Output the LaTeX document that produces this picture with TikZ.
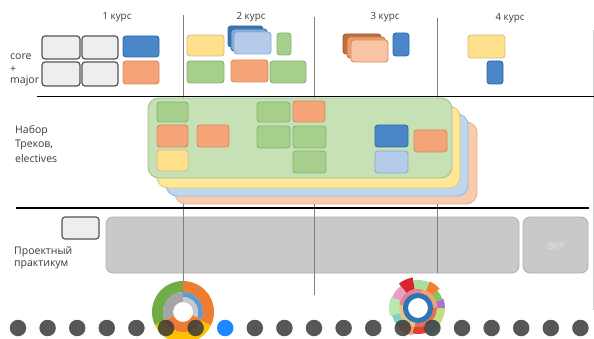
\documentclass[tikz,border=0pt]{standalone}
\usepackage{fontspec}
\setmainfont{Open Sans}
\definecolor{txt}{HTML}{3A3A3A}
\definecolor{gbox}{HTML}{EEEEEE}
\definecolor{gline}{HTML}{555555}
\definecolor{bluef}{HTML}{4A86C8}
\definecolor{bluel}{HTML}{2F6AAA}
\definecolor{oranf}{HTML}{F5A477}
\definecolor{oranl}{HTML}{D98B5F}
\definecolor{yelf}{HTML}{FFE08C}
\definecolor{yell}{HTML}{D8C080}
\definecolor{grnf}{HTML}{A6CF8C}
\definecolor{grnl}{HTML}{86B470}
\definecolor{lbluf}{HTML}{B4CBEA}
\definecolor{lblul}{HTML}{8EA9D0}
\definecolor{brownf}{HTML}{C0703A}
\definecolor{midof}{HTML}{E8A070}
\definecolor{peachf}{HTML}{F8C4A4}
\definecolor{trgreen}{HTML}{C6E1B5}
\definecolor{trgreenl}{HTML}{A0C490}
\definecolor{tryel}{HTML}{FFE699}
\definecolor{tryell}{HTML}{E3C878}
\definecolor{trblue}{HTML}{BDD7EE}
\definecolor{trbluel}{HTML}{9DB8D8}
\definecolor{trpeach}{HTML}{F8CBAD}
\definecolor{trpeachl}{HTML}{E8B090}
\definecolor{projf}{HTML}{C9C9C9}
\definecolor{projl}{HTML}{B0B0B0}
\definecolor{vline}{HTML}{808080}
\definecolor{dotc}{HTML}{3A3A3A}
\definecolor{dotblue}{HTML}{1E88FF}
\definecolor{dgreen}{HTML}{70AD47}
\definecolor{dorange}{HTML}{ED7D31}
\definecolor{dyellow}{HTML}{FFC000}
\definecolor{dgray}{HTML}{A5A5A5}
\definecolor{dblue}{HTML}{5B9BD5}
\definecolor{ringblue}{HTML}{2E75B6}
\newcommand{\ringseg}[5]{\fill[#1] (#2:#4) arc[start angle=#2,end angle=#3,radius=#4] -- (#3:#5) arc[start angle=#3,end angle=#2,radius=#5] -- cycle;}
\tikzset{
  lbl/.style={text=txt, font=\fontsize{10.5}{12}\selectfont, inner sep=0pt},
  hdr/.style={text=txt, font=\fontsize{9.8}{11}\selectfont, inner sep=0pt},
  sbox/.style={rounded corners=3pt, line width=0.9pt},
  graybox/.style={sbox, fill=gbox, draw=gline, line width=1.2pt},
  bluebox/.style={sbox, fill=bluef, draw=bluel},
  orbox/.style={sbox, fill=oranf, draw=oranl},
  yebox/.style={sbox, fill=yelf, draw=yell},
  grbox/.style={sbox, fill=grnf, draw=grnl},
  lbbox/.style={sbox, fill=lbluf, draw=lblul},
  track/.style={rounded corners=11pt, line width=0.9pt},
  proj/.style={rounded corners=7pt, fill=projf, draw=projl, line width=0.8pt},
  sep/.style={line width=1.6pt, black},
  col/.style={line width=0.8pt, vline},
  dot/.style={circle, fill=dotc, fill opacity=0.85, minimum size=16.5pt, inner sep=0pt},
}
\begin{document}
\begin{tikzpicture}[x=1pt,y=-1pt]
\useasboundingbox (0,0) rectangle (594,339);
\begin{scope}
\clip (0,0) rectangle (594,339);
\fill[white] (0,0) rectangle (594,339);
% faint slide edge
\draw[line width=0.6pt, black!18] (593,30) -- (593,310);
% project section boxes
\draw[graybox] (62,217) rectangle (99,239);
\draw[proj] (106,217) rectangle (519,273);
\draw[proj] (523,217) rectangle (588,273);
\node[text=white!88!black, font=\fontsize{9}{10}\selectfont, inner sep=0pt] (vkr) at (556,246) {ВКР};
% column separators
\coordinate (c1t) at (183,15); \coordinate (c1b) at (183,284);
\coordinate (c2t) at (314,17); \coordinate (c2b) at (314,295);
\coordinate (c3t) at (437,18); \coordinate (c3b) at (437,273);
\draw[col] (c1t) -- (c1b);
\draw[col] (c2t) -- (c2b);
\draw[col] (c3t) -- (c3b);
% horizontal separators
\coordinate (h1a) at (37,96.5); \coordinate (h1b) at (594,96.5);
\coordinate (h2a) at (16,208); \coordinate (h2b) at (589,208);
\draw[sep] (h1a) -- (h1b);
\draw[sep] (h2a) -- (h2b);
% headers
\node[hdr] (k1) at (117,17) {1 курс};
\node[hdr] (k2) at (251,17) {2 курс};
\node[hdr] (k3) at (385,17) {3 курс};
\node[hdr] (k4) at (510,18) {4 курс};
% row labels
\node[lbl, anchor=west] (core) at (10,57) {core};
\node[lbl, anchor=west] (plus) at (10,69) {+};
\node[lbl, anchor=west] (major) at (10,81) {major};
\node[lbl, anchor=west] (nab) at (15,131) {Набор};
\node[lbl, anchor=west] (trek) at (15,145) {Треков,};
\node[lbl, anchor=west] (elec) at (15,159) {electives};
\node[lbl, anchor=west] (proe) at (14,252) {Проектный};
\node[lbl, anchor=west] (prak) at (14,265) {практикум};
% column 1
\draw[graybox] (42,36) rectangle (80,59);
\draw[graybox] (82,36) rectangle (118,59);
\draw[graybox] (42,62) rectangle (80,86);
\draw[graybox] (82,62) rectangle (118,86);
\draw[bluebox] (123,36) rectangle (159,57);
\draw[orbox] (123,61) rectangle (159,84);
% column 2
\draw[yebox] (187,35) rectangle (224,56);
\draw[sbox, fill=bluef!85!black, draw=bluel] (228,26) rectangle (263,47);
\draw[sbox, fill=bluef!70!white, draw=bluel] (231,29) rectangle (267,51);
\draw[lbbox] (234,32) rectangle (271,54);
\draw[grbox] (277,33) rectangle (291,55);
\draw[grbox] (187,61) rectangle (224,83);
\draw[orbox] (231,60) rectangle (268,82);
\draw[grbox] (270,61) rectangle (306,83);
% column 3
\draw[sbox, fill=brownf, draw=brownf!80!black] (343,34) rectangle (381,54);
\draw[sbox, fill=midof, draw=brownf] (347,37) rectangle (385,58);
\draw[sbox, fill=peachf, draw=oranl] (351,40) rectangle (388,62);
\draw[bluebox] (393,33) rectangle (409,56);
% column 4
\draw[yebox] (468,35) rectangle (505,58);
\draw[bluebox] (487,61) rectangle (503,84);
% tracks
\draw[track, fill=trpeach, draw=trpeachl] (175,122) rectangle (477,204);
\draw[track, fill=trblue, draw=trbluel] (166,114) rectangle (468,196);
\draw[track, fill=tryel, draw=tryell] (157,106) rectangle (460,188);
\draw[track, fill=trgreen, draw=trgreenl] (148,98) rectangle (452,178);
% boxes inside tracks
\draw[grbox] (157,102) rectangle (188,122);
\draw[orbox] (157,125) rectangle (188,147);
\draw[orbox] (197,125) rectangle (229,147);
\draw[yebox] (157,150) rectangle (188,171);
\draw[grbox] (257,102) rectangle (290,122);
\draw[orbox] (293,101) rectangle (325,122);
\draw[grbox] (257,126) rectangle (290,148);
\draw[grbox] (293,126) rectangle (326,148);
\draw[grbox] (293,151) rectangle (326,173);
\draw[bluebox] (375,125) rectangle (408,147);
\draw[lbbox] (375,151) rectangle (408,173);
\draw[orbox] (414,130) rectangle (447,152);
% donut 1
\begin{scope}[shift={(183,312)}, yscale=-1]
\ringseg{dgreen}{90}{205}{20}{31}
\ringseg{dyellow}{205}{335}{20}{31}
\ringseg{dorange}{335}{450}{20}{31}
\ringseg{dgray}{90}{205}{10}{20}
\ringseg{dorange}{205}{340}{10}{20}
\ringseg{dblue}{340}{450}{15}{20}
\ringseg{dgray!60}{340}{450}{10}{15}
\end{scope}
% donut 2 (sunburst)
\begin{scope}[shift={(418,308)}, yscale=-1]
\foreach \a/\b/\c/\r in {0/20/B070D0/27, 20/42/7CC85C/26, 42/66/F08030/29, 66/100/A8E0A0/28,
  100/128/D9262E/31, 128/158/E8A0C0/28, 158/196/B8E8B0/29, 196/228/80D0C0/27,
  228/258/F0A070/28, 258/290/E04030/26, 290/322/9CD8F0/29, 322/360/C0E080/27}{
  \definecolor{segc}{HTML}{\c}
  \ringseg{segc}{\a}{\b}{19}{\r}
}
\foreach \a/\b/\c in {0/80/F4A070, 80/170/E88090, 170/260/F0C080, 260/360/E07050}{
  \definecolor{segc}{HTML}{\c}
  \ringseg{segc}{\a}{\b}{15}{19}
}
\ringseg{ringblue}{0}{360}{10}{15}
\end{scope}
% dots
\foreach \i in {0,...,19}{
  \ifnum\i=7
    \node[dot, fill=dotblue, fill opacity=1] (d\i) at (18+29.6*\i,328) {};
  \else
    \node[dot] (d\i) at (18+29.6*\i,328) {};
  \fi
}
\end{scope}
\end{tikzpicture}
\end{document}
